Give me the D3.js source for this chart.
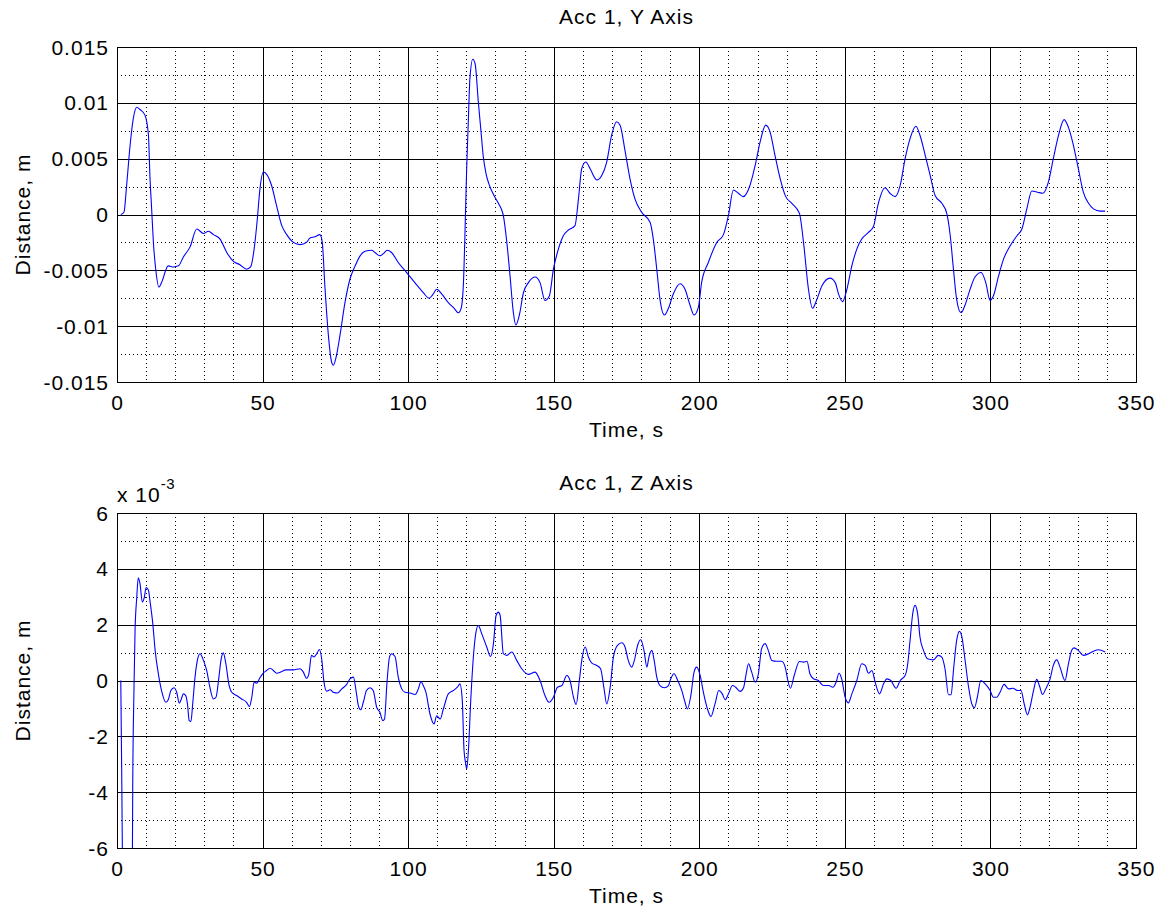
<!DOCTYPE html>
<html>
<head>
<meta charset="utf-8">
<script src="https://cdn.jsdelivr.net/npm/d3@7"></script>
<style>
  html, body { margin: 0; padding: 0; background: #fff; }
  svg { display: block; }
  text { font-family: "Liberation Sans", Arial, sans-serif; fill: #000; }
</style>
</head>
<body>
<svg id="chart" width="1171" height="911"></svg>
<script>
// ---------------- DATA ----------------
// Top panel: Acc 1, Y Axis (distance in m)
const topT = [1.3,2.4,3.3,4.5,5.6,6.8,7.9,9.6,10.8,11.3,11.9,12.5,13.3,14.4,15.3,17.6,19.4,21.1,22.8,25.1,27.4,29.7,31.4,33.1,35.4,37.7,40.0,42.2,44.5,45.9,47.1,48.2,49.1,50.3,51.4,53.1,54.8,56.6,58.3,60.6,62.9,65.1,66.3,68.0,69.7,70.5,71.4,72.6,73.7,74.3,75.4,76.6,78.3,80.0,81.8,83.5,85.2,87.5,88.6,90.3,91.5,92.8,94.3,96.6,99.5,102.3,105.2,107.2,108.4,109.8,111.5,113.8,115.8,117.2,118.2,119.0,119.5,120.1,120.7,121.2,122.2,123.0,124.1,125.0,125.8,126.8,127.8,129.3,131.0,132.0,132.7,133.9,135.0,136.1,137.0,138.2,139.6,141.3,143.6,145.3,147.0,148.5,149.9,151.6,153.3,155.0,157.3,158.5,159.6,161.0,162.5,164.8,166.5,168.2,169.9,171.6,172.8,174.5,176.2,177.9,180.2,183.1,184.2,185.4,186.5,188.0,189.4,191.1,193.4,195.1,196.8,198.2,199.7,200.8,203.1,206.0,208.3,210.0,211.7,213.4,215.1,217.4,219.2,220.9,222.8,224.3,226.0,227.8,229.7,231.8,234.4,235.8,237.5,238.9,240.4,242.1,244.9,246.7,247.8,249.2,250.7,252.4,254.1,255.8,258.1,259.8,261.5,263.8,265.5,267.3,269.0,270.7,272.4,274.4,275.8,277.6,279.3,281.0,283.3,285.0,286.2,287.3,288.4,289.9,291.3,293.0,294.7,296.8,298.4,299.9,301.0,302.8,304.5,306.8,309.1,310.8,312.5,314.2,316.2,318.0,319.9,321.6,323.4,325.3,326.8,328.5,330.2,331.9,333.7,335.4,337.7,339.4];
const topV = [0,0.0002,0.0026,0.0062,0.0086,0.0096,0.0094,0.0089,0.0071,0.0035,0.0005,-0.0025,-0.0049,-0.0065,-0.0061,-0.0046,-0.0047,-0.0046,-0.0038,-0.0029,-0.0013,-0.0017,-0.0015,-0.0018,-0.0022,-0.0034,-0.0042,-0.0045,-0.0049,-0.0047,-0.0031,-0.0004,0.0023,0.0038,0.0036,0.0026,0.0008,-0.0010,-0.0018,-0.0025,-0.0027,-0.0025,-0.0021,-0.0020,-0.0018,-0.0025,-0.0064,-0.0108,-0.0132,-0.0135,-0.0126,-0.0108,-0.0079,-0.0058,-0.0046,-0.0037,-0.0033,-0.0032,-0.0034,-0.0037,-0.0035,-0.0032,-0.0034,-0.0043,-0.0052,-0.0061,-0.0070,-0.0075,-0.0072,-0.0067,-0.0071,-0.0079,-0.0084,-0.0088,-0.0084,-0.0061,-0.0019,0.0041,0.0086,0.0121,0.0139,0.0135,0.0101,0.0075,0.0052,0.0036,0.0027,0.0018,0.0010,0.0005,-0.0001,-0.0025,-0.0055,-0.0087,-0.0099,-0.0090,-0.0070,-0.0061,-0.0056,-0.0061,-0.0077,-0.0073,-0.0049,-0.0031,-0.0019,-0.0014,-0.0010,0.0014,0.0041,0.0047,0.0041,0.0031,0.0035,0.0047,0.0071,0.0083,0.0080,0.0057,0.0032,0.0014,0.0002,-0.0007,-0.0022,-0.0049,-0.0076,-0.0090,-0.0084,-0.0071,-0.0062,-0.0067,-0.0081,-0.0090,-0.0083,-0.0061,-0.0043,-0.0025,-0.0018,-0.0001,0.0022,0.0019,0.0016,0.0026,0.0044,0.0065,0.0080,0.0074,0.0053,0.0032,0.0016,0.0010,0.0001,-0.0025,-0.0067,-0.0084,-0.0076,-0.0064,-0.0057,-0.0061,-0.0071,-0.0078,-0.0067,-0.0046,-0.0031,-0.0022,-0.0016,-0.0011,0.0010,0.0024,0.0019,0.0016,0.0026,0.0050,0.0068,0.0079,0.0071,0.0053,0.0035,0.0017,0.0010,0.0001,-0.0019,-0.0049,-0.0076,-0.0088,-0.0081,-0.0067,-0.0056,-0.0052,-0.0061,-0.0077,-0.0073,-0.0055,-0.0040,-0.0028,-0.0019,-0.0013,0.0005,0.0021,0.0020,0.0019,0.0029,0.0050,0.0071,0.0085,0.0078,0.0062,0.0041,0.0020,0.0010,0.0005,0.0003,0.0003];

// Bottom panel: Acc 1, Z Axis (distance in units of 10^-3 m)
const botT = [1.3,1.6,2.2,4.9,5.3,5.4,5.8,6.2,6.8,7.3,7.9,8.7,9.4,10.0,10.8,11.3,12.3,13.1,14.2,15.3,16.8,17.6,18.5,19.6,20.5,21.4,22.1,22.8,23.6,24.2,24.8,25.4,26.0,26.8,27.6,28.5,29.7,30.8,31.9,33.1,34.0,35.0,35.7,36.5,37.4,38.4,39.4,41.1,42.8,44.5,45.5,46.3,47.1,48.0,48.9,50.0,51.4,52.6,53.7,54.8,56.6,58.0,60.6,62.9,64.0,65.1,65.9,66.8,67.6,68.6,69.5,70.3,71.1,72.0,73.2,74.3,75.7,77.2,78.9,80.0,81.2,82.1,82.9,83.7,84.6,85.7,86.9,88.0,89.2,90.3,91.3,91.9,92.7,93.6,94.3,95.5,96.6,97.8,98.9,100.7,102.4,103.5,104.4,105.2,106.1,107.5,108.9,109.8,111.0,112.1,113.8,115.5,116.9,117.8,118.6,119.2,119.8,120.1,120.7,121.5,122.4,123.2,124.1,125.3,127.0,128.3,129.3,130.2,131.0,131.6,132.7,133.9,135.6,137.3,139.0,141.3,143.6,145.3,147.0,148.4,149.9,151.3,152.8,154.5,155.6,156.8,157.7,158.8,159.8,160.8,161.9,163.1,164.8,166.1,167.3,168.2,169.4,170.5,171.9,173.4,174.5,175.6,176.8,177.7,178.9,179.9,181.0,182.0,182.7,183.7,184.5,185.4,186.5,188.0,189.4,190.2,191.3,192.6,194.0,195.1,195.9,197.1,198.2,199.1,200.3,201.4,202.8,204.0,205.4,206.7,207.9,208.9,210.0,211.4,212.5,214.0,215.2,216.1,216.9,218.0,219.2,220.3,221.4,222.6,223.7,224.9,226.6,228.3,229.5,230.3,231.3,232.6,234.4,235.8,237.0,238.0,239.2,240.9,242.6,244.4,245.9,247.0,248.0,248.9,250.1,251.2,252.4,254.1,255.8,257.0,258.1,259.3,260.4,261.9,263.3,264.4,265.8,267.6,269.0,270.7,271.6,272.4,273.3,274.1,275.0,275.8,277.0,278.4,280.4,282.1,283.3,284.4,285.6,286.5,287.3,288.4,289.4,290.2,291.3,292.5,293.6,294.5,295.5,296.7,298.2,299.9,301.0,302.2,303.3,304.7,306.2,307.7,309.4,310.5,311.6,312.7,313.6,314.8,315.9,316.8,317.9,319.0,320.5,321.6,322.8,323.9,325.6,326.8,327.9,328.7,330.2,331.9,333.7,335.4,337.1,339.4];
const botV = [0,-3.11,-9,-9,-6,-3.83,-0.48,1.79,2.99,3.68,3.47,2.81,2.99,3.33,3.23,2.87,2.03,1.08,0.24,-0.36,-0.78,-0.69,-0.36,-0.26,-0.42,-0.81,-0.66,-0.48,-0.54,-0.84,-1.44,-1.47,-0.84,0.12,0.72,0.96,0.72,0.36,-0.24,-0.66,-0.60,0.12,0.72,0.99,0.60,-0.12,-0.42,-0.54,-0.66,-0.78,-0.93,-0.60,-0.06,-0.10,0.06,0.24,0.36,0.44,0.36,0.26,0.32,0.38,0.38,0.42,0.30,0.08,0.24,0.90,0.84,0.96,1.11,0.78,-0.06,-0.38,-0.33,-0.42,-0.45,-0.30,-0.14,0.06,0.12,-0.36,-0.90,-1.05,-0.78,-0.36,-0.26,-0.36,-0.96,-1.14,-1.44,-1.38,-0.12,0.84,0.96,0.86,0.12,-0.30,-0.42,-0.45,-0.50,-0.30,-0.04,-0.18,-0.42,-1.20,-1.56,-1.26,-1.38,-1.02,-0.48,-0.36,-0.24,-0.12,-0.72,-2.51,-2.99,-3.17,-2.51,-0.72,0.84,1.67,1.97,1.67,1.20,0.86,1.32,2.33,2.45,2.33,0.96,0.90,1.02,0.72,0.42,0.22,0.30,0,-0.54,-0.78,-0.60,-0.24,-0.18,0.18,0,-0.60,-0.86,0,0.84,1.20,0.84,0.62,0.54,0.42,-0.30,-0.84,-0.24,0.84,1.26,1.35,1.20,0.72,0.48,0.72,1.29,1.46,1.08,0.48,0.84,1.08,0.72,0.12,-0.18,-0.26,-0.18,0.06,0.24,0,-0.36,-0.78,-1.02,-0.54,0.30,0.48,0.18,-0.42,-1.02,-1.29,-0.84,-0.36,-0.48,-0.69,-0.48,-0.18,-0.24,-0.39,-0.26,0.24,0.60,0.30,-0.06,0.24,1.14,1.32,1.08,0.72,0.69,0.69,0.48,0.06,-0.28,0.18,0.68,0.66,0.69,0.24,0.06,0,-0.18,-0.18,-0.24,-0.06,0.26,0.06,-0.60,-0.80,-0.48,0,0.60,0.54,0.26,0.36,-0.06,-0.48,-0.12,0.06,0,-0.28,0,0.18,0.60,1.44,2.39,2.69,2.39,1.56,1.08,0.78,0.74,0.90,0.84,0.42,-0.51,-0.51,0.36,1.44,1.76,1.56,0.72,-0.24,-0.84,-0.98,-0.60,0,-0.12,-0.36,-0.60,-0.60,-0.42,-0.14,-0.30,-0.28,-0.36,-0.36,-0.84,-1.23,-0.96,-0.36,0.04,-0.18,-0.50,-0.30,0.06,0.54,0.74,0.48,0,0.60,1.08,1.17,1.08,0.90,0.96,1.05,1.10,1.02];

// Axes ticks and labels
const xMajorTicks = [0, 50, 100, 150, 200, 250, 300, 350];
const xMinorTicks = [10,20,30,40,60,70,80,90,110,120,130,140,160,170,180,190,210,220,230,240,260,270,280,290,310,320,330,340];
const topYTicks = [-0.015, -0.01, -0.005, 0, 0.005, 0.01, 0.015];
const topYTickLabels = ["-0.015", "-0.01", "-0.005", "0", "0.005", "0.01", "0.015"];
const topYMinor = [-0.0125, -0.0075, -0.0025, 0.0025, 0.0075, 0.0125];
const botYTicks = [-6, -4, -2, 0, 2, 4, 6];
const botYTickLabels = ["-6", "-4", "-2", "0", "2", "4", "6"];
const botYMinor = [-5, -3, -1, 1, 3, 5];

const titles = ["Acc 1, Y Axis", "Acc 1, Z Axis"];
const xLabel = "Time, s";
const yLabel = "Distance, m";
const botExponent = "-3";

// ---------------- DRAW ----------------
const svg = d3.select("#chart");
const LEFT = 117, RIGHT = 1136;
const panels = [
  { top: 47, bottom: 382, t: topT, v: topV, yDomain: [-0.015, 0.015], yTicks: topYTicks, yLabels: topYTickLabels, yMinor: topYMinor, title: titles[0], exp: null },
  { top: 513, bottom: 848, t: botT, v: botV, yDomain: [-6, 6], yTicks: botYTicks, yLabels: botYTickLabels, yMinor: botYMinor, title: titles[1], exp: botExponent }
];

const px = v => Math.round(v) + 0.5;

panels.forEach((p, i) => {
  const x = d3.scaleLinear().domain([0, 350]).range([LEFT, RIGHT]);
  const y = d3.scaleLinear().domain(p.yDomain).range([p.bottom, p.top]);
  const g = svg.append("g");

  // minor dotted grid
  g.selectAll(".vminor").data(xMinorTicks).join("line")
    .attr("x1", d => px(x(d))).attr("x2", d => px(x(d)))
    .attr("y1", p.top).attr("y2", p.bottom)
    .attr("stroke", "#000").attr("stroke-width", 1).attr("stroke-dasharray", "1,3");
  g.selectAll(".hminor").data(p.yMinor).join("line")
    .attr("y1", d => px(y(d))).attr("y2", d => px(y(d)))
    .attr("x1", LEFT).attr("x2", RIGHT)
    .attr("stroke", "#000").attr("stroke-width", 1).attr("stroke-dasharray", "1,3");

  // major solid grid
  g.selectAll(".vmajor").data(xMajorTicks).join("line")
    .attr("x1", d => px(x(d))).attr("x2", d => px(x(d)))
    .attr("y1", p.top).attr("y2", p.bottom)
    .attr("stroke", "#000").attr("stroke-width", 1);
  g.selectAll(".hmajor").data(p.yTicks).join("line")
    .attr("y1", d => px(y(d))).attr("y2", d => px(y(d)))
    .attr("x1", LEFT).attr("x2", RIGHT)
    .attr("stroke", "#000").attr("stroke-width", 1);

  // clip
  const clipId = "clip" + i;
  svg.append("clipPath").attr("id", clipId).append("rect")
    .attr("x", LEFT).attr("y", p.top).attr("width", RIGHT - LEFT).attr("height", p.bottom - p.top);

  const data = p.t.map((t, k) => [t, p.v[k]]);
  const line = d3.line().x(d => x(d[0])).y(d => y(d[1])).curve(d3.curveMonotoneX);
  g.append("path").datum(data)
    .attr("clip-path", `url(#${clipId})`)
    .attr("d", line)
    .attr("fill", "none").attr("stroke", "#0000ff").attr("stroke-width", 1.1);

  // box
  g.append("rect").attr("x", px(LEFT)).attr("y", px(p.top))
    .attr("width", Math.round(RIGHT) - Math.round(LEFT)).attr("height", Math.round(p.bottom) - Math.round(p.top))
    .attr("fill", "none").attr("stroke", "#000").attr("stroke-width", 1);

  const fs = 21, ls = 1;
  // x tick labels
  g.selectAll(".xtl").data(xMajorTicks).join("text")
    .attr("x", d => x(d) + ls / 2).attr("y", p.bottom + 27.5)
    .attr("text-anchor", "middle").attr("font-size", fs).attr("letter-spacing", ls)
    .text(d => d);
  // y tick labels
  g.selectAll(".ytl").data(p.yTicks).join("text")
    .attr("x", 109).attr("y", d => y(d) + 7.5)
    .attr("text-anchor", "end").attr("font-size", fs).attr("letter-spacing", ls)
    .text((d, k) => p.yLabels[k]);
  // title
  g.append("text").attr("x", (LEFT + RIGHT) / 2).attr("y", p.top - 23.5)
    .attr("text-anchor", "middle").attr("font-size", fs).attr("letter-spacing", ls)
    .text(p.title);
  // x label
  g.append("text").attr("x", (LEFT + RIGHT) / 2).attr("y", p.bottom + 54.5)
    .attr("text-anchor", "middle").attr("font-size", fs).attr("letter-spacing", ls)
    .text(xLabel);
  // y label
  g.append("text").attr("transform", `translate(29.5,${(p.top + p.bottom) / 2}) rotate(-90)`)
    .attr("text-anchor", "middle").attr("font-size", fs).attr("letter-spacing", ls)
    .text(yLabel);
  // exponent
  if (p.exp) {
    const t = g.append("text").attr("x", LEFT).attr("y", p.top - 11.5)
      .attr("font-size", fs).attr("letter-spacing", ls);
    t.append("tspan").text("x 10");
    t.append("tspan").attr("dy", -13).attr("font-size", 15).attr("letter-spacing", 0.5).text(p.exp);
  }
});
</script>
</body>
</html>
